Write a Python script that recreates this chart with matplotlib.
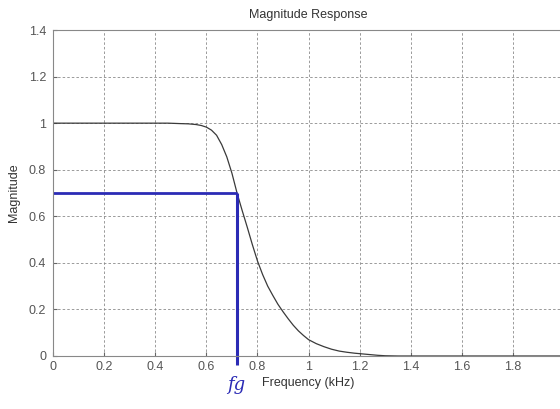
import matplotlib.pyplot as plt

freq = [0.0, 0.1, 0.2, 0.3, 0.4, 0.45, 0.5, 0.53, 0.56, 0.58, 0.6, 0.62, 0.64,
        0.66, 0.68, 0.7, 0.72, 0.74, 0.76, 0.78, 0.8, 0.82, 0.84, 0.86, 0.88,
        0.9, 0.92, 0.94, 0.96, 0.98, 1.0, 1.03, 1.06, 1.09, 1.12, 1.15, 1.18,
        1.21, 1.24, 1.27, 1.3, 1.35, 1.4, 1.6, 1.8, 2.0]
mag = [1.0, 1.0, 1.0, 1.0, 1.0, 1.0, 0.998, 0.997, 0.994, 0.99, 0.983, 0.97, 0.948,
       0.908, 0.855, 0.785, 0.70, 0.625, 0.553, 0.478, 0.408, 0.35, 0.30, 0.26, 0.222,
       0.19, 0.16, 0.132, 0.108, 0.088, 0.07, 0.053, 0.04, 0.029, 0.021, 0.016, 0.012,
       0.009, 0.006, 0.003, 0.001, 0.0, 0.0, 0.0, 0.0, 0.0]

fg = 0.72
level = 0.7

xticks = [0, 0.2, 0.4, 0.6, 0.8, 1, 1.2, 1.4, 1.6, 1.8]
xticklabels = ['0', '0.2', '0.4', '0.6', '0.8', '1', '1.2', '1.4', '1.6', '1.8']
yticks = [0, 0.2, 0.4, 0.6, 0.8, 1, 1.2, 1.4]
yticklabels = ['0', '0.2', '0.4', '0.6', '0.8', '1', '1.2', '1.4']

plt.rcParams['font.family'] = ['Liberation Sans', 'DejaVu Sans']

fig = plt.figure(figsize=(5.6, 4.09), dpi=100)
ax = fig.add_axes([0.0946, 0.1296, 0.913, 0.797])

ax.plot(freq, mag, color='#3a3a3a', lw=0.9)

## hand drawn marks
ax.plot([0, fg], [level, level], color='#2b2bb5', lw=2.0, solid_capstyle='butt')
ax.plot([fg, fg], [level, -0.04], color='#2b2bb5', lw=2.2, clip_on=False,
        solid_capstyle='butt')
ax.text(fg - 0.005, -0.125, 'fg', color='#2b2bb5', fontsize=13, style='italic',
        ha='center', va='center', family=['DejaVu Serif'])

ax.set_xlim(0, 2)
ax.set_ylim(0, 1.4)
ax.set_xticks(xticks)
ax.set_xticklabels(xticklabels)
ax.set_yticks(yticks)
ax.set_yticklabels(yticklabels)
ax.tick_params(direction='in', length=3, labelsize=9, colors='#666666',
               labelcolor='#555555')
ax.tick_params(axis='y', pad=5)
ax.grid(True, color='#8a8a8a', linestyle=(0, (3, 2.5)), lw=0.6)
for side in ['left', 'bottom', 'top', 'right']:
    ax.spines[side].set_color('#888888')
    ax.spines[side].set_linewidth(0.8)

ax.set_title('Magnitude Response', fontsize=9, color='#333333', pad=9)
ax.set_xlabel('Frequency (kHz)', fontsize=9, color='#333333', labelpad=3)
ax.set_ylabel('Magnitude', fontsize=9, color='#333333', labelpad=6)

fig.savefig('out.png', dpi=100)
